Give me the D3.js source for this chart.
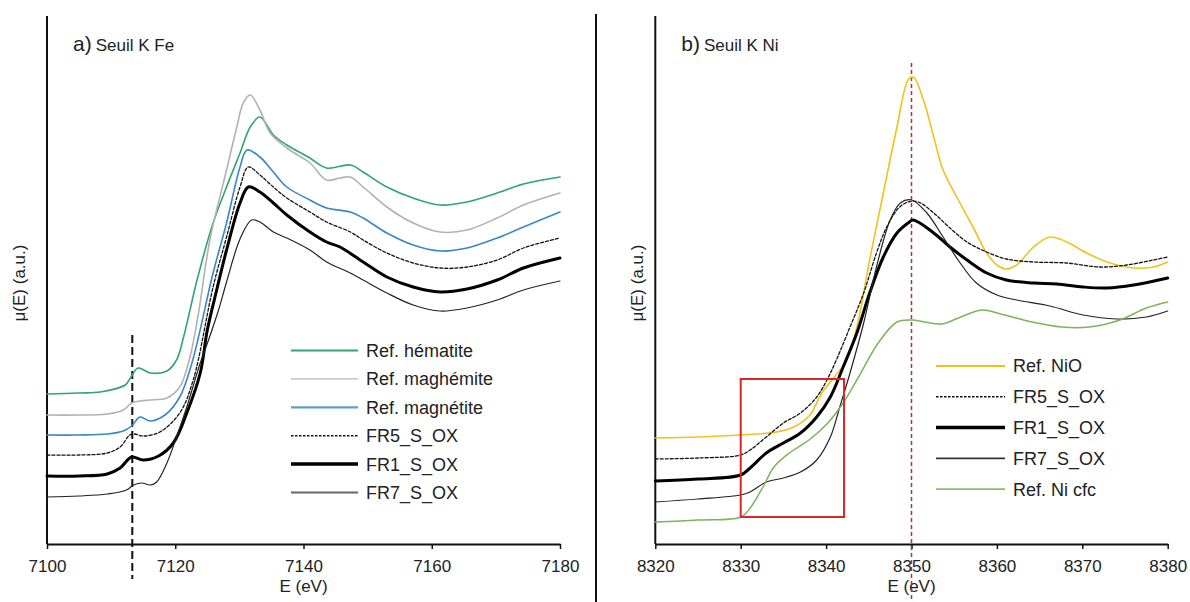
<!DOCTYPE html>
<html><head><meta charset="utf-8">
<script src="https://cdn.jsdelivr.net/npm/d3@7"></script>
<style>
body{margin:0;background:#fff;}
svg{display:block;font-family:"Liberation Sans",Arial,sans-serif;}
</style></head><body>
<svg id="c" width="1190" height="602"></svg>
<script>
// ---------- DATA (energy eV, mu(E) a.u. with vertical offsets as in the figure) ----------
const feTicks = [7100, 7120, 7140, 7160, 7180];
const niTicks = [8320, 8330, 8340, 8350, 8360, 8370, 8380];

const hematite = [[7100,1.50],[7105,1.51],[7108.3,1.52],[7112.2,1.59],[7113,1.66],[7114.2,1.76],[7116.1,1.71],[7118.7,1.73],[7120.2,1.84],[7121.3,2.07],[7123.4,2.64],[7125.9,3.21],[7128,3.57],[7130.1,3.91],[7131.7,4.17],[7133.2,4.27],[7135.3,4.09],[7137.4,3.99],[7141,3.86],[7143.6,3.76],[7147.3,3.79],[7149.3,3.72],[7153,3.57],[7157.1,3.46],[7161.3,3.39],[7165.5,3.42],[7170.2,3.51],[7174.3,3.60],[7180,3.67]];
const maghemite = [[7100,1.29],[7105,1.29],[7109.4,1.30],[7111.9,1.34],[7113.2,1.41],[7114.5,1.43],[7116,1.44],[7118.7,1.46],[7120.7,1.57],[7122.3,1.87],[7123.6,2.30],[7125.4,3.04],[7128,3.74],[7129.6,4.17],[7130.6,4.41],[7131.7,4.49],[7133.2,4.34],[7134.8,4.11],[7137.4,3.96],[7141,3.81],[7143.6,3.64],[7145.7,3.66],[7147.3,3.67],[7149.3,3.57],[7153,3.37],[7157.1,3.21],[7161.3,3.12],[7165.5,3.14],[7170.2,3.26],[7174.3,3.39],[7180,3.51]];
const magnetite = [[7100,1.09],[7105,1.09],[7109.4,1.10],[7111.9,1.13],[7113.2,1.18],[7114.5,1.27],[7116.1,1.23],[7118.4,1.29],[7120.7,1.47],[7122.6,1.81],[7125.9,2.71],[7128,3.21],[7130.1,3.77],[7131.2,3.94],[7133.2,3.87],[7135.3,3.72],[7137.4,3.57],[7141,3.44],[7143.6,3.36],[7147.3,3.32],[7149.3,3.26],[7153,3.11],[7157.1,2.99],[7161.3,2.93],[7165.5,2.96],[7170.2,3.06],[7174.3,3.17],[7180,3.32]];
const fr5Fe = [[7100,0.89],[7105,0.89],[7109.4,0.91],[7111.4,0.97],[7112.9,1.09],[7113.6,1.10],[7115,1.08],[7117.6,1.12],[7120.7,1.31],[7122.8,1.64],[7125.9,2.57],[7128,3.07],[7130.1,3.57],[7131.4,3.77],[7133.2,3.69],[7135.3,3.57],[7137.4,3.46],[7141,3.32],[7143.6,3.22],[7147.3,3.12],[7149.3,3.04],[7153,2.91],[7157.1,2.81],[7161.3,2.76],[7165.5,2.77],[7170.2,2.84],[7174.3,2.96],[7180,3.06]];
const fr1Fe = [[7100,0.68],[7105,0.68],[7109.4,0.70],[7111.4,0.76],[7113.2,0.87],[7115,0.84],[7117.4,0.88],[7119.7,1.01],[7121.8,1.31],[7123.9,1.71],[7125,2.14],[7126.5,2.55],[7128,2.94],[7130.1,3.41],[7131.4,3.57],[7133.2,3.52],[7135.3,3.41],[7137.4,3.29],[7141,3.12],[7143.6,3.02],[7145.7,2.97],[7149.3,2.82],[7153,2.67],[7157.1,2.57],[7161.3,2.52],[7165.5,2.55],[7170.2,2.64],[7174.3,2.76],[7180,2.86]];
const fr7Fe = [[7100,0.47],[7105,0.48],[7109.4,0.50],[7112.4,0.54],[7113.5,0.59],[7114.8,0.61],[7116.1,0.59],[7117.1,0.62],[7118.7,0.81],[7120.2,1.07],[7121.8,1.37],[7123.9,1.81],[7125.3,2.06],[7126.8,2.35],[7128,2.62],[7130.1,3.05],[7131.9,3.24],[7133.2,3.22],[7135.3,3.12],[7137.4,3.06],[7141,2.94],[7143.6,2.82],[7147.3,2.71],[7149.3,2.64],[7153,2.51],[7157.1,2.39],[7161.3,2.33],[7165.5,2.36],[7170.2,2.44],[7174.3,2.54],[7180,2.63]];

const nio = [[8320,1.06],[8325,1.07],[8329.9,1.09],[8334.2,1.12],[8336.2,1.17],[8338.1,1.29],[8339.5,1.51],[8342.4,1.84],[8343.6,2.17],[8345.1,2.84],[8346.7,3.51],[8348.3,4.17],[8349.6,4.64],[8350.2,4.67],[8351.4,4.44],[8352.6,4.07],[8353.7,3.74],[8355.3,3.47],[8357.2,3.17],[8358.8,2.91],[8360,2.79],[8361.1,2.75],[8362.3,2.79],[8364.3,2.97],[8366.2,3.07],[8368.2,3.02],[8370.5,2.91],[8372.9,2.82],[8376,2.76],[8378.3,2.77],[8380,2.82]];
const fr5Ni = [[8320,0.85],[8325,0.86],[8330,0.89],[8331.1,0.94],[8333,1.07],[8335,1.21],[8337,1.31],[8338.9,1.47],[8340.1,1.64],[8341.2,1.84],[8342.8,2.17],[8344.4,2.51],[8345.9,2.91],[8347.1,3.17],[8348.5,3.36],[8349.6,3.42],[8350.8,3.42],[8352.6,3.31],[8354.5,3.16],[8356.5,3.02],[8358.8,2.92],[8361.1,2.85],[8364.3,2.82],[8368.2,2.81],[8372.1,2.77],[8375.2,2.79],[8378.3,2.84],[8380,2.87]];
const fr1Ni = [[8320,0.63],[8325,0.65],[8330,0.69],[8331.1,0.76],[8333,0.91],[8335,1.01],[8337,1.11],[8338.9,1.27],[8340.5,1.47],[8342,1.77],[8343.6,2.11],[8345.1,2.51],[8346.7,2.87],[8348.3,3.11],[8349.6,3.21],[8350.2,3.24],[8352.6,3.11],[8354.5,2.97],[8356.5,2.84],[8358.8,2.71],[8361.1,2.64],[8364.3,2.61],[8367,2.60],[8370.1,2.57],[8372.9,2.56],[8376,2.59],[8380,2.66]];
const fr7Ni = [[8320,0.42],[8325,0.45],[8330,0.49],[8331.1,0.52],[8333,0.62],[8335,0.66],[8337,0.72],[8338.9,0.84],[8340.5,1.07],[8341.6,1.37],[8342.8,1.71],[8344.4,2.21],[8345.9,2.77],[8347.5,3.24],[8348.7,3.41],[8350,3.44],[8351.8,3.31],[8353.7,3.07],[8355.7,2.81],[8357.6,2.61],[8360,2.49],[8362.3,2.44],[8366.2,2.38],[8370.1,2.29],[8374,2.25],[8377.5,2.27],[8380,2.33]];
const nicfc = [[8320,0.22],[8325,0.24],[8330,0.27],[8331.2,0.37],[8332.6,0.57],[8333.9,0.77],[8335.7,0.91],[8338,1.04],[8340.2,1.21],[8342,1.41],[8343.8,1.67],[8346.1,2.01],[8348.3,2.22],[8350.1,2.24],[8351.5,2.22],[8353.5,2.20],[8355.5,2.26],[8358.2,2.34],[8360.9,2.29],[8364.1,2.22],[8367.6,2.17],[8370.8,2.17],[8374.4,2.24],[8377.5,2.36],[8380,2.42]];

const feEdgeMarker = 7113.3;      // black dashed line
const niPeakMarker = 8350;        // red dashed line
const niBox = [8330, 8342.1, 0.27, 1.65]; // x0,x1,y0,y1

const feSeries = [
  {name:"Ref. hématite", data:hematite, color:"#2fa56f", w:1.6, lw:2.2, dash:null, lcolor:"#2fa56f"},
  {name:"Ref. maghémite", data:maghemite, color:"#b2b2b2", w:1.6, lw:1.3, dash:null, lcolor:"#b8b8b8"},
  {name:"Ref. magnétite", data:magnetite, color:"#3a88c2", w:1.6, lw:2.2, dash:null, lcolor:"#5c9fc4"},
  {name:"FR5_S_OX", data:fr5Fe, color:"#111", w:1.3, lw:1.5, dash:"3,2", lcolor:"#111"},
  {name:"FR1_S_OX", data:fr1Fe, color:"#000", w:3, lw:3.5, dash:null, lcolor:"#000"},
  {name:"FR7_S_OX", data:fr7Fe, color:"#222", w:1.2, lw:2, dash:null, lcolor:"#666"}
];
const niSeries = [
  {name:"Ref. NiO", data:nio, color:"#efc21e", w:1.6, lw:1.8, dash:null, lcolor:"#efc21e"},
  {name:"FR5_S_OX", data:fr5Ni, color:"#111", w:1.3, lw:1.5, dash:"3,2", lcolor:"#111"},
  {name:"FR1_S_OX", data:fr1Ni, color:"#000", w:3, lw:3.5, dash:null, lcolor:"#000"},
  {name:"FR7_S_OX", data:fr7Ni, color:"#222", w:1.2, lw:1.8, dash:null, lcolor:"#333"},
  {name:"Ref. Ni cfc", data:nicfc, color:"#7cb35c", w:1.5, lw:1.8, dash:null, lcolor:"#8cbc6c"}
];

// ---------- DRAW ----------
const svg = d3.select("#c");
const yTop = 16, yBot = 544;
const y = d3.scaleLinear().domain([0, 5.28]).range([yBot, yTop]);

function panel(opts){
  const g = svg.append("g");
  const x = d3.scaleLinear().domain(opts.domain).range(opts.range);
  const line = d3.line().x(d=>x(d[0])).y(d=>y(d[1])).curve(d3.curveCatmullRom.alpha(0.5));
  // x axis
  const ax = g.append("g").attr("transform",`translate(0,${yBot})`)
    .call(d3.axisBottom(x).tickValues(opts.ticks).tickFormat(d3.format("d")).tickSize(5).tickSizeOuter(0));
  ax.select(".domain").attr("stroke","#111").attr("stroke-width",2);
  ax.selectAll(".tick line").attr("stroke","#111").attr("stroke-width",1.5);
  ax.selectAll(".tick text").attr("font-size",17).attr("fill","#222").attr("dy","1.2em")
    .attr("font-family","'Liberation Sans',Arial,sans-serif");
  // y axis line
  g.append("line").attr("x1",opts.range[0]).attr("x2",opts.range[0]).attr("y1",yTop).attr("y2",yBot)
    .attr("stroke","#111").attr("stroke-width",2);
  // axis titles
  g.append("text").attr("x",(opts.range[0]+opts.range[1])/2).attr("y",592).attr("text-anchor","middle")
    .attr("font-size",17).attr("fill","#222").text("E (eV)");
  g.append("text").attr("transform",`translate(${opts.yLabelX},283) rotate(-90)`).attr("text-anchor","middle")
    .attr("font-size",17).attr("fill","#222").text("μ(E) (a.u.)");
  // panel title
  const t = g.append("text").attr("x",opts.range[0]+26).attr("y",51).attr("fill","#222");
  t.append("tspan").attr("font-size",21).text(opts.letter);
  t.append("tspan").attr("font-size",17).attr("dx",4).text(opts.title);
  opts.extra && opts.extra(g, x);
  g.selectAll("path.curve").data(opts.series).enter().append("path").attr("class","curve")
    .attr("d",d=>line(d.data)).attr("fill","none").attr("stroke",d=>d.color)
    .attr("stroke-width",d=>d.w).attr("stroke-dasharray",d=>d.dash)
    .attr("stroke-linejoin","round").attr("stroke-linecap","round");
  opts.extraTop && opts.extraTop(g, x);
  // legend
  const lg = g.append("g");
  opts.series.forEach((s,i)=>{
    const yy = opts.legY + i*opts.legStep;
    lg.append("line").attr("x1",opts.legX).attr("x2",opts.legX+opts.legLen).attr("y1",yy).attr("y2",yy)
      .attr("stroke",s.lcolor).attr("stroke-width",s.lw).attr("stroke-dasharray",s.dash?"2.5,1.5":null);
    lg.append("text").attr("x",opts.legX+opts.legLen+8).attr("y",yy).attr("dy","0.36em")
      .attr("font-size",18).attr("fill","#222").text(s.name);
  });
}

panel({domain:[7100,7180], range:[47,560], ticks:feTicks, series:feSeries, letter:"a)", title:"Seuil K Fe",
  yLabelX:25, legX:291, legLen:67, legY:350.5, legStep:28.4,
  extra:(g,x)=>{
    g.append("line").attr("x1",x(feEdgeMarker)).attr("x2",x(feEdgeMarker)).attr("y1",335).attr("y2",579)
      .attr("stroke","#111").attr("stroke-width",2).attr("stroke-dasharray","8,4");
  }});

panel({domain:[8320,8380], range:[655.3,1167.7], ticks:niTicks, series:niSeries, letter:"b)", title:"Seuil K Ni",
  yLabelX:643, legX:936, legLen:69, legY:366, legStep:30.8,
  extra:(g,x)=>{
    g.append("line").attr("x1",x(niPeakMarker)).attr("x2",x(niPeakMarker)).attr("y1",63).attr("y2",602)
      .attr("stroke","#b5302e").attr("stroke-width",1.5).attr("stroke-dasharray","4,3");
  },
  extraTop:(g,x)=>{
    g.append("rect").attr("x",x(niBox[0])).attr("y",y(niBox[3])).attr("width",x(niBox[1])-x(niBox[0]))
      .attr("height",y(niBox[2])-y(niBox[3])).attr("fill","none").attr("stroke","#d8262a").attr("stroke-width",2);
  }});

// separator between panels
svg.append("line").attr("x1",596).attr("x2",596).attr("y1",14).attr("y2",602).attr("stroke","#111").attr("stroke-width",2);
</script>
</body></html>
